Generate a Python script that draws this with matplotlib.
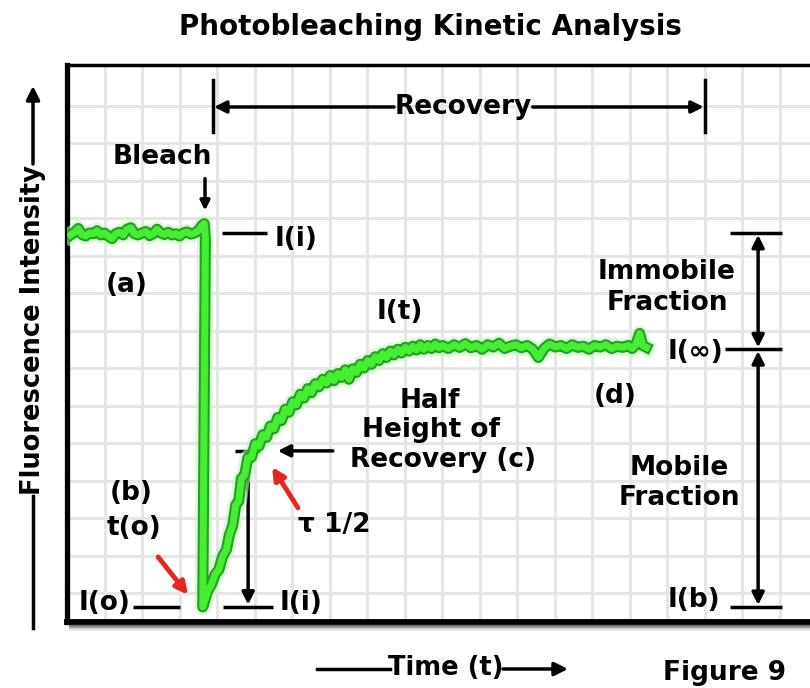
import numpy as np
import matplotlib.pyplot as plt
import matplotlib.patheffects as pe

plt.rcParams['font.family'] = 'DejaVu Sans'
plt.rcParams['font.weight'] = 'bold'

# fluorescence trace, time in grid units, intensity in grid units
pre_t = [0.10, 0.20, 0.30, 0.40, 0.50, 0.60, 0.70, 0.80, 0.90, 1.00,
         1.10, 1.20, 1.30, 1.40, 1.50, 1.60, 1.70, 1.80, 1.90, 2.00,
         2.10, 2.20, 2.30, 2.40, 2.50, 2.60, 2.70, 2.80, 2.90, 3.00,
         3.10, 3.20, 3.30, 3.40, 3.50, 3.60, 3.66, 3.69]
pre_i = [9.55, 9.62, 9.72, 9.56, 9.52, 9.60, 9.58, 9.66, 9.55, 9.60,
         9.52, 9.45, 9.58, 9.62, 9.55, 9.70, 9.74, 9.58, 9.55, 9.60,
         9.64, 9.53, 9.58, 9.70, 9.60, 9.56, 9.62, 9.55, 9.58, 9.52,
         9.60, 9.63, 9.57, 9.60, 9.66, 9.80, 9.85, 9.45]

rec_t = [3.62, 3.75, 3.85, 3.95, 4.05, 4.15, 4.25, 4.33, 4.42, 4.50,
         4.58, 4.65, 4.74, 4.82, 4.92, 5.02, 5.12, 5.22, 5.32, 5.42,
         5.52, 5.62, 5.72, 5.82, 5.92, 6.02, 6.12, 6.22, 6.32, 6.42,
         6.52, 6.62, 6.72, 6.82, 6.92, 7.02, 7.12, 7.22, 7.32, 7.42,
         7.52, 7.62, 7.72, 7.82, 7.92, 8.02, 8.12, 8.22, 8.32, 8.42,
         8.52, 8.62, 8.72, 8.82, 8.92, 9.02, 9.12, 9.22, 9.32, 9.42,
         9.52, 9.62, 9.72, 9.82, 9.92, 10.02, 10.17, 10.32, 10.47, 10.62,
         10.77, 10.92, 11.07, 11.22, 11.37, 11.52, 11.67, 11.82, 11.97, 12.12,
         12.27, 12.42, 12.57, 12.72, 12.87, 13.02, 13.17, 13.32, 13.47, 13.62,
         13.77, 13.92, 14.07, 14.22, 14.37, 14.52, 14.67, 14.82, 14.97, 15.07,
         15.17, 15.27, 15.35, 15.45]
rec_i = [-0.37, 0.05, 0.22, 0.50, 0.62, 0.98, 1.15, 1.55, 1.80, 2.35,
         2.45, 3.05, 3.15, 3.60, 3.62, 3.98, 3.92, 4.22, 4.15, 4.45,
         4.38, 4.68, 4.60, 4.90, 4.82, 5.10, 5.02, 5.30, 5.20, 5.45,
         5.34, 5.58, 5.50, 5.70, 5.60, 5.80, 5.66, 5.85, 5.75, 5.95,
         5.70, 5.98, 5.88, 6.10, 6.00, 6.20, 6.10, 6.30, 6.20, 6.38,
         6.28, 6.45, 6.35, 6.50, 6.40, 6.55, 6.45, 6.58, 6.48, 6.62,
         6.50, 6.60, 6.52, 6.64, 6.54, 6.60, 6.52, 6.62, 6.55, 6.65,
         6.54, 6.60, 6.50, 6.62, 6.56, 6.66, 6.52, 6.58, 6.62, 6.54,
         6.60, 6.50, 6.28, 6.52, 6.64, 6.56, 6.60, 6.52, 6.62, 6.55,
         6.58, 6.50, 6.60, 6.56, 6.62, 6.52, 6.58, 6.55, 6.60, 6.52,
         6.62, 6.92, 6.60, 6.55]

# reference levels
i_initial = 9.6
i_zero = -0.37
i_inf = 6.5
i_half = 3.79
t_bleach = 3.68
t_half = 4.83

fig = plt.figure(figsize=(8.1, 6.88), dpi=100)

# overlay in pixel units for the text outside the frame
ov = fig.add_axes([0, 0, 1, 1])
ov.set_xlim(0, 810)
ov.set_ylim(688, 0)
ov.axis('off')

ov.text(430, 27, 'Photobleaching Kinetic Analysis', ha='center', va='center', fontsize=20)
ov.text(33, 330, 'Fluorescence Intensity', rotation=90, ha='center', va='center', fontsize=18.5)
ov.annotate('', xy=(33, 86), xytext=(33, 164),
            arrowprops=dict(arrowstyle='-|>', color='black', lw=2.5, mutation_scale=20, shrinkA=0, shrinkB=0))
ov.plot([33, 33], [496, 628], color='black', lw=2.5)
ov.text(446, 668, 'Time (t)', ha='center', va='center', fontsize=18.5)
ov.plot([317, 390], [669, 669], color='black', lw=2.5)
ov.annotate('', xy=(568, 669), xytext=(503, 669),
            arrowprops=dict(arrowstyle='-|>', color='black', lw=2.5, mutation_scale=20, shrinkA=0, shrinkB=0))
ov.text(663, 680, 'Figure 9', ha='left', va='baseline', fontsize=19)
# frame shadow
for k, g in enumerate(['#555555', '#888888', '#aaaaaa', '#cccccc', '#e6e6e6']):
    ov.plot([70, 810], [626 + k, 626 + k], color=g, lw=1.2)

ax = fig.add_axes([67 / 810, 66 / 688, 763 / 810, 557 / 688])
ax.set_xlim(0, 763 / 37.5)
ax.set_ylim(-29 / 37.5, 528 / 37.5)
ax.set_xticks(np.arange(1, 21))
ax.set_yticks(np.arange(0, 14))
ax.grid(color='#e6e6e6', lw=2.2)
ax.set_axisbelow(True)
ax.tick_params(length=0, labelbottom=False, labelleft=False)
ax.spines['left'].set_linewidth(3.8)
ax.spines['bottom'].set_linewidth(4.2)
ax.spines['top'].set_linewidth(2.5)
ax.spines['right'].set_visible(False)

trace_t = pre_t + rec_t
trace_i = pre_i + rec_i
ax.plot(trace_t, trace_i, color='#45ee30', lw=5, solid_joinstyle='round', zorder=5,
        path_effects=[pe.Stroke(linewidth=12, foreground='#c8f5c0', alpha=0.6),
                      pe.Stroke(linewidth=8, foreground='#22a022'),
                      pe.Normal()])

def arrow(a, b, color='black', style='-|>', lw=2.5, ms=18):
    ax.annotate('', xy=b, xytext=a,
                arrowprops=dict(arrowstyle=style, color=color, lw=lw, mutation_scale=ms,
                                shrinkA=0, shrinkB=0))

def tick(x0, x1, y):
    ax.plot([x0, x1], [y, y], color='black', lw=2.5, solid_capstyle='butt')

fs = 19

# recovery bracket
for xb in (3.89, 17.01):
    ax.plot([xb, xb], [12.29, 13.68], color='black', lw=2.5)
ax.text(10.56, 12.96, 'Recovery', ha='center', va='center', fontsize=fs)
arrow((8.72, 12.96), (3.92, 12.96))
arrow((12.42, 12.96), (16.98, 12.96))

# bleach
ax.text(2.53, 11.63, 'Bleach', ha='center', va='center', fontsize=fs)
arrow((t_bleach, 11.05), (t_bleach, 10.2), ms=14)
tick(4.13, 5.33, i_initial)
ax.text(6.11, 9.45, 'I(i)', ha='center', va='center', fontsize=fs)
ax.text(1.6, 8.21, '(a)', ha='center', va='center', fontsize=fs)

# recovery curve labels
ax.text(8.88, 7.49, 'I(t)', ha='center', va='center', fontsize=fs)
ax.text(9.68, 5.12, 'Half', ha='center', va='center', fontsize=fs)
ax.text(9.71, 4.35, 'Height of', ha='center', va='center', fontsize=fs)
ax.text(10.03, 3.55, 'Recovery (c)', ha='center', va='center', fontsize=fs)
arrow((7.09, i_half), (5.62, i_half))
tick(4.48, 5.15, i_half)
arrow((t_half, i_half), (t_half, i_zero + 0.06))
tick(4.16, 5.49, i_zero)
ax.text(6.24, -0.27, 'I(i)', ha='center', va='center', fontsize=fs)
arrow((6.16, 2.27), (5.47, 3.36), color='#e8251f', lw=3.5, ms=18)
ax.text(7.12, 1.81, '\u03c4 1/2', ha='center', va='center', fontsize=fs)

# post-bleach point
ax.text(1.01, -0.27, 'I(o)', ha='center', va='center', fontsize=fs)
tick(1.76, 3.01, i_zero)
ax.text(1.71, 2.67, '(b)', ha='center', va='center', fontsize=fs)
ax.text(1.79, 1.73, 't(o)', ha='center', va='center', fontsize=fs)
arrow((2.43, 0.96), (3.23, -0.05), color='#e8251f', lw=3.5, ms=18)

# fractions
tick(17.68, 19.07, i_initial)
tick(17.55, 19.07, i_inf)
tick(17.68, 19.07, i_zero)
arrow((18.43, i_inf + 0.05), (18.43, i_initial - 0.05), style='<|-|>')
arrow((18.43, i_zero + 0.05), (18.43, i_inf - 0.05), style='<|-|>')
ax.text(16.0, 8.56, 'Immobile', ha='center', va='center', fontsize=fs)
ax.text(16.0, 7.73, 'Fraction', ha='center', va='center', fontsize=fs)
ax.text(16.75, 6.43, 'I(\u221e)', ha='center', va='center', fontsize=fs)
ax.text(14.61, 5.25, '(d)', ha='center', va='center', fontsize=fs)
ax.text(16.32, 3.33, 'Mobile', ha='center', va='center', fontsize=fs)
ax.text(16.32, 2.53, 'Fraction', ha='center', va='center', fontsize=fs)
ax.text(16.72, -0.19, 'I(b)', ha='center', va='center', fontsize=fs)

fig.savefig('out.png', dpi=100)
